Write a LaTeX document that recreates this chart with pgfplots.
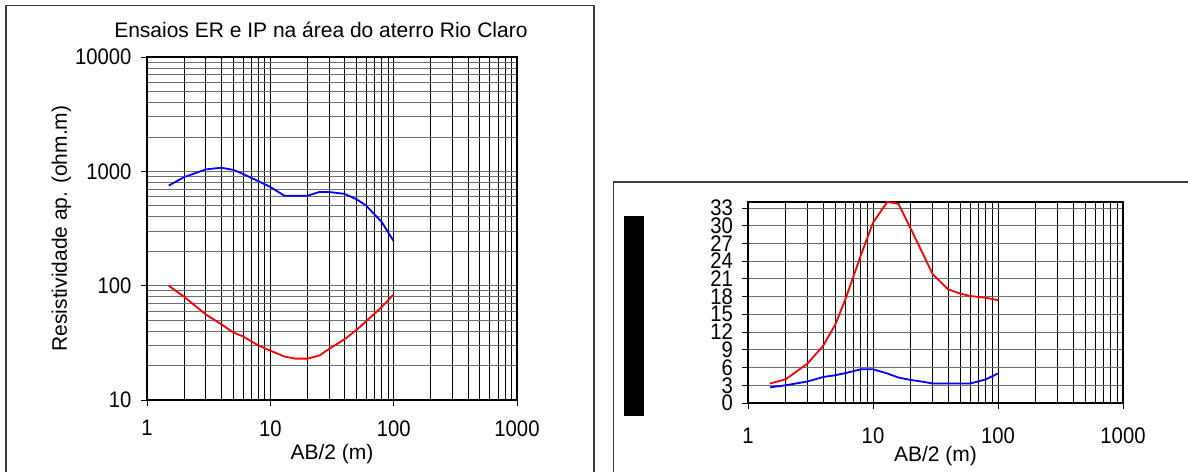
\documentclass[border=0pt]{standalone}
\usepackage{pgfplots}
\pgfplotsset{compat=1.18}
\usepackage{fontspec}
\setmainfont{Liberation Sans}
\newfontfamily\tickfont{Liberation Sans}[FakeStretch=0.9]
\definecolor{framegray}{RGB}{60,60,60}
\definecolor{gridgray}{RGB}{110,110,110}
\begin{document}
\begin{tikzpicture}
\useasboundingbox (0pt,0pt) rectangle (1188pt,471pt);
\clip (0pt,0pt) rectangle (1188pt,471pt);
\fill[white] (0pt,0pt) rectangle (1188pt,471pt);
% outer frames
\draw[framegray, line width=1.4pt] (6pt,-10pt) -- (6pt,465.5pt) -- (594pt,465.5pt) -- (594pt,-10pt);
\draw[framegray, line width=1.4pt] (613.7pt,-10pt) -- (613.7pt,289pt) -- (1200pt,289pt);
% black bar (obscured label)
\fill[black] (624pt,55pt) rectangle (644pt,255pt);

\pgfplotsset{
  every axis/.append style={
    scale only axis,
    axis line style={black, line width=1.6pt},
    tick align=outside,
    major tick length=6pt,
    minor tick length=0pt,
    xtick pos=bottom, ytick pos=left,
    tick style={black, line width=0.8pt},
    tick label style={font=\tickfont\fontsize{22.5}{22.5}\selectfont},
    label style={font=\fontsize{21}{21}\selectfont},
    major grid style={black, line width=0.8pt},
    minor grid style={black, line width=0.8pt},
  },
}

% ---------------- left chart ----------------
\begin{axis}[
  at={(147pt,71pt)}, anchor=south west,
  width=370pt, height=343pt,
  xmode=log, ymode=log,
  xmin=1, xmax=1000, ymin=10, ymax=10000,
  xtick={1,10,100,1000}, xticklabels={1,10,100,1000},
  ytick={10,100,1000,10000}, yticklabels={10,100,1000,10000},
  grid=both,
  y grid style={gridgray},
  yminorgrids=true,
  xticklabel style={yshift=-11pt},
  yticklabel style={xshift=-6pt},
  xlabel={AB/2 (m)},
  ylabel={Resistividade ap. (ohm.m)},
  xlabel style={yshift=-1pt},
  ylabel style={yshift=-3pt},
  title={Ensaios ER e IP na área do aterro Rio Claro},
  title style={font=\fontsize{21}{21}\selectfont, at={(axis description cs:0.47,1)}, anchor=south, yshift=10pt},
]
\addplot[blue, line width=1.8pt] coordinates {
(1.5,750) (2,890) (3,1040) (4,1075) (5,1030) (6,950) (8,820) (10,730)
(13,612) (16,612) (20,612) (25,660) (30,660) (40,635) (50,570) (60,500) (80,360) (100,245)
};
\addplot[red, line width=1.8pt] coordinates {
(1.5,100) (2,80) (3,56) (4,46) (5,39) (6,36) (8,30) (10,27)
(13,24) (16,23) (20,23) (25,24.5) (30,28) (40,34) (50,41) (60,49) (80,65) (100,84)
};
\end{axis}

% ---------------- right chart ----------------
\begin{axis}[
  at={(748pt,68pt)}, anchor=south west,
  width=375pt, height=201pt,
  xmode=log,
  xmin=1, xmax=1000, ymin=0, ymax=34,
  xtick={1,10,100,1000}, xticklabels={1,10,100,1000},
  ytick={0,3,6,9,12,15,18,21,24,27,30,33},
  yticklabels={0,3,6,9,12,15,18,21,24,27,30,33},
  yticklabel style={inner sep=0pt, xshift=-9pt},
  xmajorgrids=true, xminorgrids=true, ymajorgrids=true,
  y grid style={gridgray},
  xlabel={AB/2 (m)},
  xlabel style={yshift=4pt},
  xticklabel style={yshift=-15pt},
]
\addplot[red, line width=1.8pt] coordinates {
(1.5,3.3) (2,4) (3,6.7) (4,9.7) (5,13.3) (6,17.5) (8,25) (10,30.5)
(13,34) (16,33.7) (20,29.5) (25,25.3) (30,21.8) (40,19.2) (50,18.5) (60,18.1) (80,17.8) (100,17.4)
};
\addplot[blue, line width=1.8pt] coordinates {
(1.5,2.65) (2,3) (3,3.65) (4,4.4) (5,4.7) (6,5.05) (8,5.7) (10,5.7)
(13,5) (16,4.3) (20,3.9) (25,3.6) (30,3.3) (40,3.3) (50,3.3) (60,3.3) (80,4) (100,5)
};
\end{axis}
\end{tikzpicture}
\end{document}
